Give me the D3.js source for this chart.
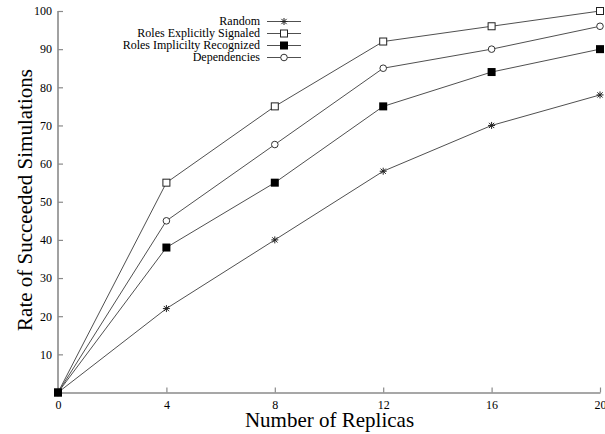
<!DOCTYPE html>
<html><head><meta charset="utf-8">
<script src="https://cdn.jsdelivr.net/npm/d3@7"></script>
<style>
body{margin:0;background:#fff;}
text{font-family:"Liberation Serif","Times New Roman",serif;fill:#000;}
</style></head>
<body><svg id="c" width="605" height="434"></svg>
<script>
const replicas = [0, 4, 8, 12, 16, 20];
const seriesNames = ["Random", "Roles Explicitly Signaled", "Roles Implicilty Recognized", "Dependencies"];
const randomVals = [0, 22, 40, 58, 70, 78];
const signaledVals = [0, 55, 75, 92, 96, 100];
const recognizedVals = [0, 38, 55, 75, 84, 90];
const dependenciesVals = [0, 45, 65, 85, 90, 96];
const xTicks = [0, 4, 8, 12, 16, 20];
const yTicks = [10, 20, 30, 40, 50, 60, 70, 80, 90, 100];

const series = [
  {name: seriesNames[0], vals: randomVals, mark: "star"},
  {name: seriesNames[1], vals: signaledVals, mark: "osq"},
  {name: seriesNames[2], vals: recognizedVals, mark: "fsq"},
  {name: seriesNames[3], vals: dependenciesVals, mark: "ocirc"}
];

const svg = d3.select("#c");
const x = d3.scaleLinear().domain([0, 20]).range([58, 600]);
const y = d3.scaleLinear().domain([0, 100]).range([392.5, 11]);

const axisColor = "#8a8a8a";
const gx = svg.append("g").attr("transform", "translate(0,392.5)")
  .call(d3.axisBottom(x).tickValues(xTicks).tickSize(-5).tickPadding(8).tickSizeOuter(0));
gx.selectAll("text").attr("font-size", 12);
const gy = svg.append("g").attr("transform", "translate(58,0)")
  .call(d3.axisLeft(y).tickValues(yTicks).tickSize(-5).tickPadding(6).tickSizeOuter(0));
gy.selectAll("text").attr("font-size", 12);
svg.selectAll(".domain").attr("stroke", axisColor).attr("stroke-width", 1.6);
svg.selectAll(".tick line").attr("stroke", axisColor).attr("stroke-width", 1.2);
svg.selectAll(".tick text").attr("font-family", "Liberation Serif").attr("fill", "#000");
// y-axis line should extend from 0 to 100
gy.select(".domain").attr("d", `M0,${y(0)}V${y(100)}`);

svg.append("text").attr("x", 329.5).attr("y", 426.5).attr("text-anchor", "middle")
  .attr("font-size", 21).text("Number of Replicas");
svg.append("text").attr("transform", `translate(32,200) rotate(-90)`).attr("text-anchor", "middle")
  .attr("font-size", 21).text("Rate of Succeeded Simulations");

const lineColor = "#505050";
const line = d3.line().x((d, i) => x(replicas[i])).y(d => y(d));

function drawMark(g, type, cx, cy) {
  const s = 3.5;
  if (type === "star") {
    const p = g.append("path").attr("fill", "none").attr("stroke", "#222").attr("stroke-width", 1)
      .attr("d", `M${cx - s},${cy}H${cx + s}M${cx},${cy - s}V${cy + s}M${cx - s * 0.75},${cy - s * 0.75}L${cx + s * 0.75},${cy + s * 0.75}M${cx - s * 0.75},${cy + s * 0.75}L${cx + s * 0.75},${cy - s * 0.75}`);
  } else if (type === "osq") {
    g.append("rect").attr("x", cx - s).attr("y", cy - s).attr("width", 2 * s).attr("height", 2 * s)
      .attr("fill", "#fff").attr("stroke", "#222").attr("stroke-width", 1);
  } else if (type === "fsq") {
    g.append("rect").attr("x", cx - s - 0.5).attr("y", cy - s - 0.5).attr("width", 2 * s + 1).attr("height", 2 * s + 1)
      .attr("fill", "#000");
  } else {
    g.append("circle").attr("cx", cx).attr("cy", cy).attr("r", 3.3)
      .attr("fill", "#fff").attr("stroke", "#333").attr("stroke-width", 1);
  }
}

const order = [0, 3, 1, 2];
order.forEach(k => {
  const s = series[k];
  svg.append("path").datum(s.vals).attr("d", line).attr("fill", "none")
    .attr("stroke", lineColor).attr("stroke-width", 1);
});
order.forEach(k => {
  const s = series[k];
  const g = svg.append("g");
  s.vals.forEach((v, i) => drawMark(g, s.mark, x(replicas[i]), y(v)));
});

// legend
const legY = [21.5, 33.5, 45.5, 57.5];
series.forEach((s, i) => {
  const g = svg.append("g");
  g.append("text").attr("x", 260).attr("y", legY[i]).attr("dy", "0.33em").attr("text-anchor", "end")
    .attr("font-size", 12).text(s.name);
  g.append("line").attr("x1", 267).attr("x2", 301).attr("y1", legY[i]).attr("y2", legY[i])
    .attr("stroke", lineColor).attr("stroke-width", 1);
  drawMark(g, s.mark, 284, legY[i]);
});
</script></body></html>
